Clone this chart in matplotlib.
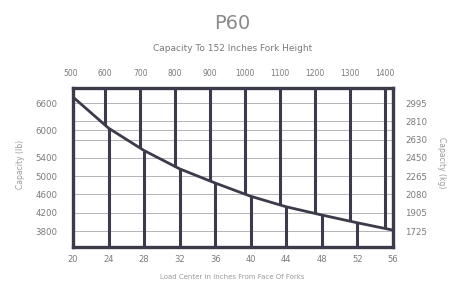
import numpy as np
import matplotlib
matplotlib.use("Agg")
import matplotlib.pyplot as plt

# ---- data ----
load_center_in = [20, 24, 28, 32, 36, 40, 44, 48, 52, 56]
capacity_lb = [6730, 6050, 5560, 5160, 4850, 4560, 4330, 4150, 3980, 3820]

bottom_ticks = [20, 24, 28, 32, 36, 40, 44, 48, 52, 56]
top_ticks_mm = [500, 600, 700, 800, 900, 1000, 1100, 1200, 1300, 1400]
left_ticks_lb = [6600, 6000, 5400, 5000, 4600, 4200, 3800]
right_ticks_lb = [6600, 6200, 5800, 5400, 5000, 4600, 4200, 3800]
right_labels_kg = ["2995", "2810", "2630", "2450", "2265", "2080", "1905", "1725"]
hgrid_lb = [6600, 6200, 6000, 5800, 5400, 5000, 4600, 4200, 3800]

title = "P60"
subtitle = "Capacity To 152 Inches Fork Height"
xlabel = "Load Center in Inches From Face Of Forks"
ylabel_left = "Capacity (lb)"
ylabel_right = "Capacity (kg)"

MM_PER_IN = 25.4
dark = "#3b3b4c"
txt = "#7a7a7a"

fig = plt.figure(figsize=(4.51, 2.81), dpi=100)
ax = fig.add_axes([0.162, 0.121, 0.709, 0.566])
ax.set_xlim(20, 56)
ax.set_ylim(3450, 6930)

x = np.array(load_center_in, float)
y = np.array(capacity_lb, float)

# horizontal thin grid lines
for h in hgrid_lb:
    ax.axhline(h, color="#b4b4b8", lw=0.7, zorder=1)

# vertical lines from bottom (inch ticks) up to the curve
for t in bottom_ticks[1:-1]:
    ax.plot([t, t], [3450, np.interp(t, x, y)], color=dark, lw=2.2, zorder=2,
            solid_capstyle="butt")
# vertical lines from top (mm ticks) down to the curve
for m in top_ticks_mm:
    xi = m / MM_PER_IN
    if 20 < xi < 56:
        ax.plot([xi, xi], [np.interp(xi, x, y), 6930], color=dark, lw=2.2,
                zorder=2, solid_capstyle="butt")

ax.plot(x, y, color=dark, lw=2.0, zorder=3)

for s in ax.spines.values():
    s.set_color(dark)
    s.set_linewidth(2.4)

ax.set_xticks(bottom_ticks)
ax.set_xticklabels([str(t) for t in bottom_ticks])
ax.set_yticks(left_ticks_lb)
ax.set_yticklabels([str(t) for t in left_ticks_lb])
ax.tick_params(axis="x", length=0, pad=6, labelsize=6, labelcolor=txt)
ax.tick_params(axis="y", length=0, pad=11, labelsize=6.2, labelcolor=txt)

ax2 = ax.twinx()
ax2.set_ylim(ax.get_ylim())
ax2.set_yticks(right_ticks_lb)
ax2.set_yticklabels(right_labels_kg)
ax2.tick_params(axis="y", length=0, pad=9, labelsize=6.2, labelcolor=txt)
for s in ax2.spines.values():
    s.set_visible(False)

# top mm scale labels
for m in top_ticks_mm:
    ax.text(m / MM_PER_IN, 1.09, str(m), transform=ax.get_xaxis_transform(),
            ha="center", va="center", fontsize=5.5, color=txt, clip_on=False)

fig.text(0.516, 0.918, title, ha="center", va="center", fontsize=14, color="#8a8a8a")
fig.text(0.516, 0.829, subtitle, ha="center", va="center", fontsize=6.5, color=txt)
fig.text(0.516, 0.016, xlabel, ha="center", va="center", fontsize=5, color="#9a9a9a")
fig.text(0.046, 0.415, ylabel_left, rotation=90, ha="center", va="center",
         fontsize=5.5, color="#9a9a9a")
fig.text(0.978, 0.42, ylabel_right, rotation=-90, ha="center", va="center",
         fontsize=5.5, color="#9a9a9a")

fig.savefig("out.png", dpi=100, facecolor="white")
